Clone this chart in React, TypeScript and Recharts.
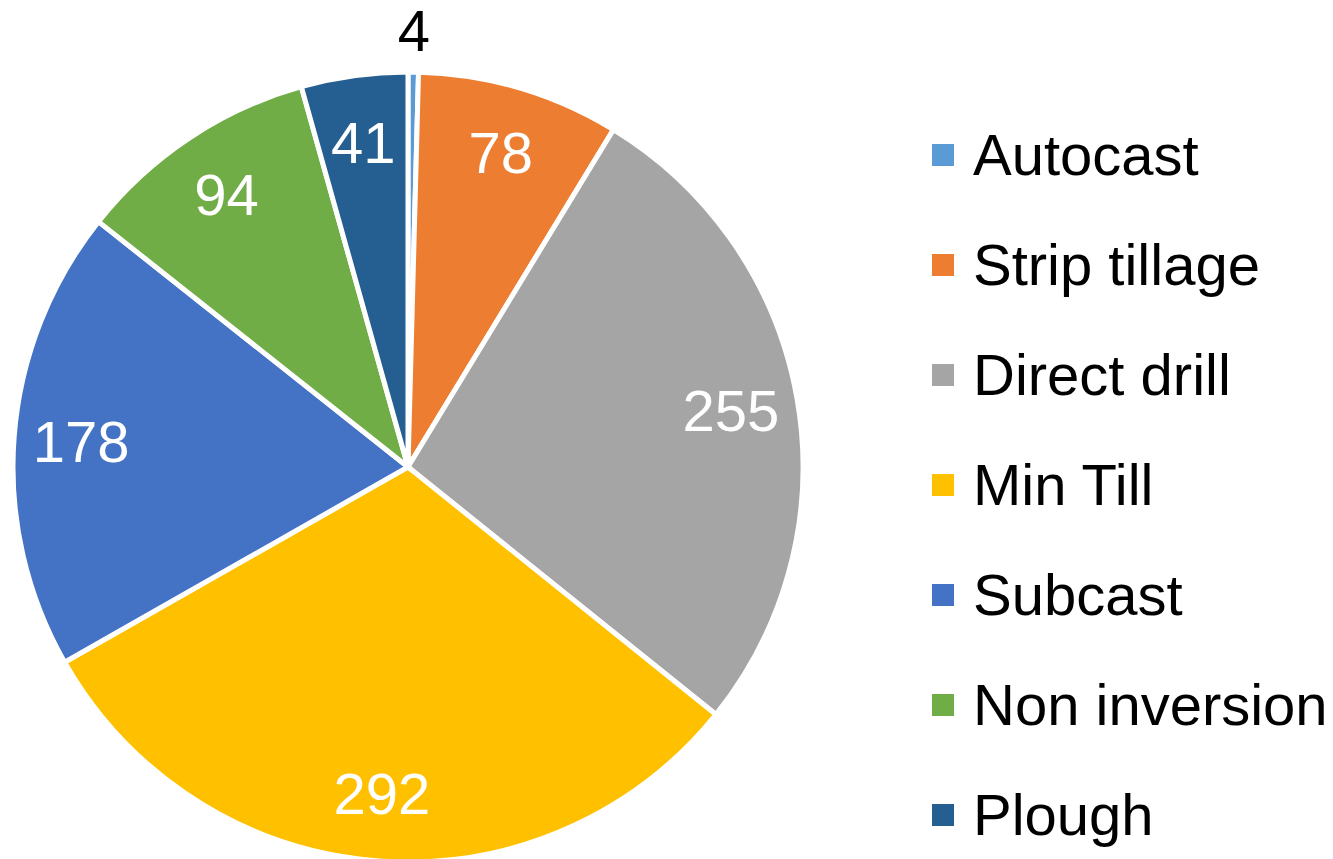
import { PieChart, Pie, Cell, Legend } from 'recharts';

const categories = ['Autocast', 'Strip tillage', 'Direct drill', 'Min Till', 'Subcast', 'Non inversion', 'Plough'];
const counts = [4, 78, 255, 292, 178, 94, 41];
const colors = ['#5B9BD5', '#ED7D31', '#A5A5A5', '#FFC000', '#4472C4', '#70AD47', '#255E91'];

const data = categories.map((name, i) => ({ name, value: counts[i] }));

const RAD = Math.PI / 180;
const FONT = '"Liberation Sans", Arial, sans-serif';

const renderLabel = (props: any) => {
    const { cx, cy, midAngle, outerRadius, value } = props;
    const small = value < 10;
    const r = small ? outerRadius + 42 : outerRadius * 0.83;
    const x = cx + r * Math.cos(-midAngle * RAD);
    const y = cy + r * Math.sin(-midAngle * RAD);
    return (
        <text
            x={x}
            y={y}
            fill={small ? '#000' : '#fff'}
            fontSize={58}
            fontFamily={FONT}
            textAnchor="middle"
            dominantBaseline="central"
        >
            {value}
        </text>
    );
};

const renderLegend = () => (
    <div style={{ fontFamily: FONT, fontSize: 58, color: '#000' }}>
        {categories.map((name, i) => (
            <div key={name} style={{ height: 110, display: 'flex', alignItems: 'center' }}>
                <span style={{ width: 22, height: 22, background: colors[i], display: 'inline-block', marginRight: 19 }} />
                <span style={{ lineHeight: 1 }}>{name}</span>
            </div>
        ))}
    </div>
);

export default function App() {
    return (
        <div style={{ position: 'absolute', left: 0, top: 0, width: 1333, height: 859, background: '#fff' }}>
            <PieChart width={1333} height={859} margin={{ top: 0, right: 0, bottom: 0, left: 0 }}>
                <Pie
                    data={data}
                    dataKey="value"
                    nameKey="name"
                    cx={408}
                    cy={467}
                    outerRadius={395}
                    startAngle={90}
                    endAngle={-270}
                    stroke="#fff"
                    strokeWidth={5}
                    label={renderLabel}
                    labelLine={false}
                    isAnimationActive={false}
                >
                    {data.map((d, i) => (
                        <Cell key={d.name} fill={colors[i]} />
                    ))}
                </Pie>
                <Legend
                    content={renderLegend}
                    wrapperStyle={{ position: 'absolute', left: 932, top: 100, width: 400 }}
                />
            </PieChart>
        </div>
    );
}
